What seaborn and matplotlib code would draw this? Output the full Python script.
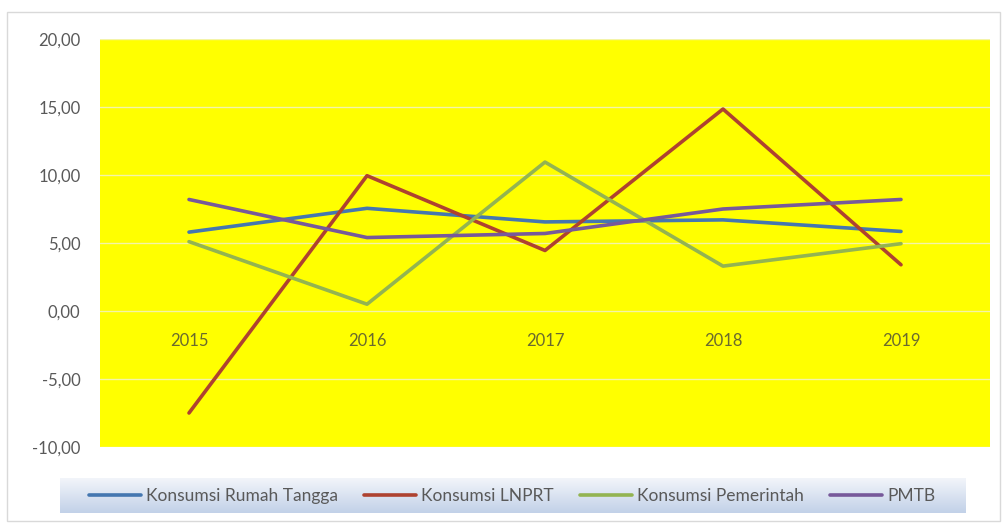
import numpy as np
import pandas as pd
import matplotlib
matplotlib.use('Agg')
import matplotlib.pyplot as plt
from matplotlib.patches import Rectangle
from matplotlib.ticker import FuncFormatter
import seaborn as sns

sns.set_style('white')
plt.rcParams['font.family'] = ['Lato', 'DejaVu Sans']

# data
years = [2015, 2016, 2017, 2018, 2019]
rumah_tangga = [5.80, 7.55, 6.55, 6.70, 5.85]
lnprt = [-7.50, 9.95, 4.45, 14.85, 3.40]
pemerintah = [5.10, 0.50, 10.95, 3.30, 4.95]
pmtb = [8.20, 5.40, 5.70, 7.50, 8.20]

series_names = ['Konsumsi Rumah Tangga', 'Konsumsi LNPRT', 'Konsumsi Pemerintah', 'PMTB']
colors = ['#4577b0', '#ae4230', '#93b451', '#77599a']

df = pd.DataFrame({
    'tahun': years * 4,
    'nilai': rumah_tangga + lnprt + pemerintah + pmtb,
    'seri': [s for s in series_names for _ in years],
})

fig = plt.figure(figsize=(10.07, 5.23), dpi=100)
fig.patch.set_facecolor('white')

# outer chart border
fig.patches.append(Rectangle((7 / 1007, 2 / 523), 993 / 1007, 509 / 523,
                             transform=fig.transFigure, fill=False,
                             edgecolor='#d9d9d9', lw=1.0, zorder=0))

# legend background with a soft gradient
lax = fig.add_axes([60 / 1007, 10 / 523, 905 / 1007, 35 / 523])
grad = np.linspace(0, 1, 64).reshape(-1, 1)
top = np.array([0.95, 0.96, 0.98])
bot = np.array([0.76, 0.82, 0.91])
img = top[None, None, :] * (1 - grad[:, :, None]) + bot[None, None, :] * grad[:, :, None]
lax.imshow(img, aspect='auto', extent=[0, 1, 0, 1])
lax.set_axis_off()

ax = fig.add_axes([100 / 1007, 76 / 523, 890 / 1007, 408 / 523])
ax.set_facecolor('#ffff00')

sns.lineplot(data=df, x='tahun', y='nilai', hue='seri', palette=colors,
             hue_order=series_names, lw=2.6, ax=ax, legend=False)

ax.set_xlim(2014.5, 2019.5)
ax.set_ylim(-10, 20)
ax.set_yticks(np.arange(-10, 21, 5))
ax.yaxis.set_major_formatter(FuncFormatter(lambda v, p: f'{v:.2f}'.replace('.', ',')))
ax.grid(axis='y', color='#f4f4a8', lw=1.0)
ax.set_axisbelow(True)

for s in ['top', 'right', 'left']:
    ax.spines[s].set_visible(False)
ax.spines['bottom'].set_position(('data', 0))
ax.spines['bottom'].set_visible(False)

ax.set_xticks(years)
ax.set_xticklabels([str(y) for y in years])
ax.tick_params(axis='x', length=0, pad=16, labelsize=12, labelcolor='#6a6a2e')
ax.tick_params(axis='y', length=0, pad=14, labelsize=12, labelcolor='#595959')
ax.set_xlabel('')
ax.set_ylabel('')

handles = [plt.Line2D([], [], color=c, lw=2.6) for c in colors]
fig.legend(handles, series_names, loc='center', ncol=4,
           bbox_to_anchor=(512 / 1007, 27 / 523), frameon=False,
           fontsize=12.5, handlelength=3.0, handletextpad=0.3,
           columnspacing=1.5, labelcolor='#595959')

fig.savefig('out.png', dpi=100, facecolor='white')
